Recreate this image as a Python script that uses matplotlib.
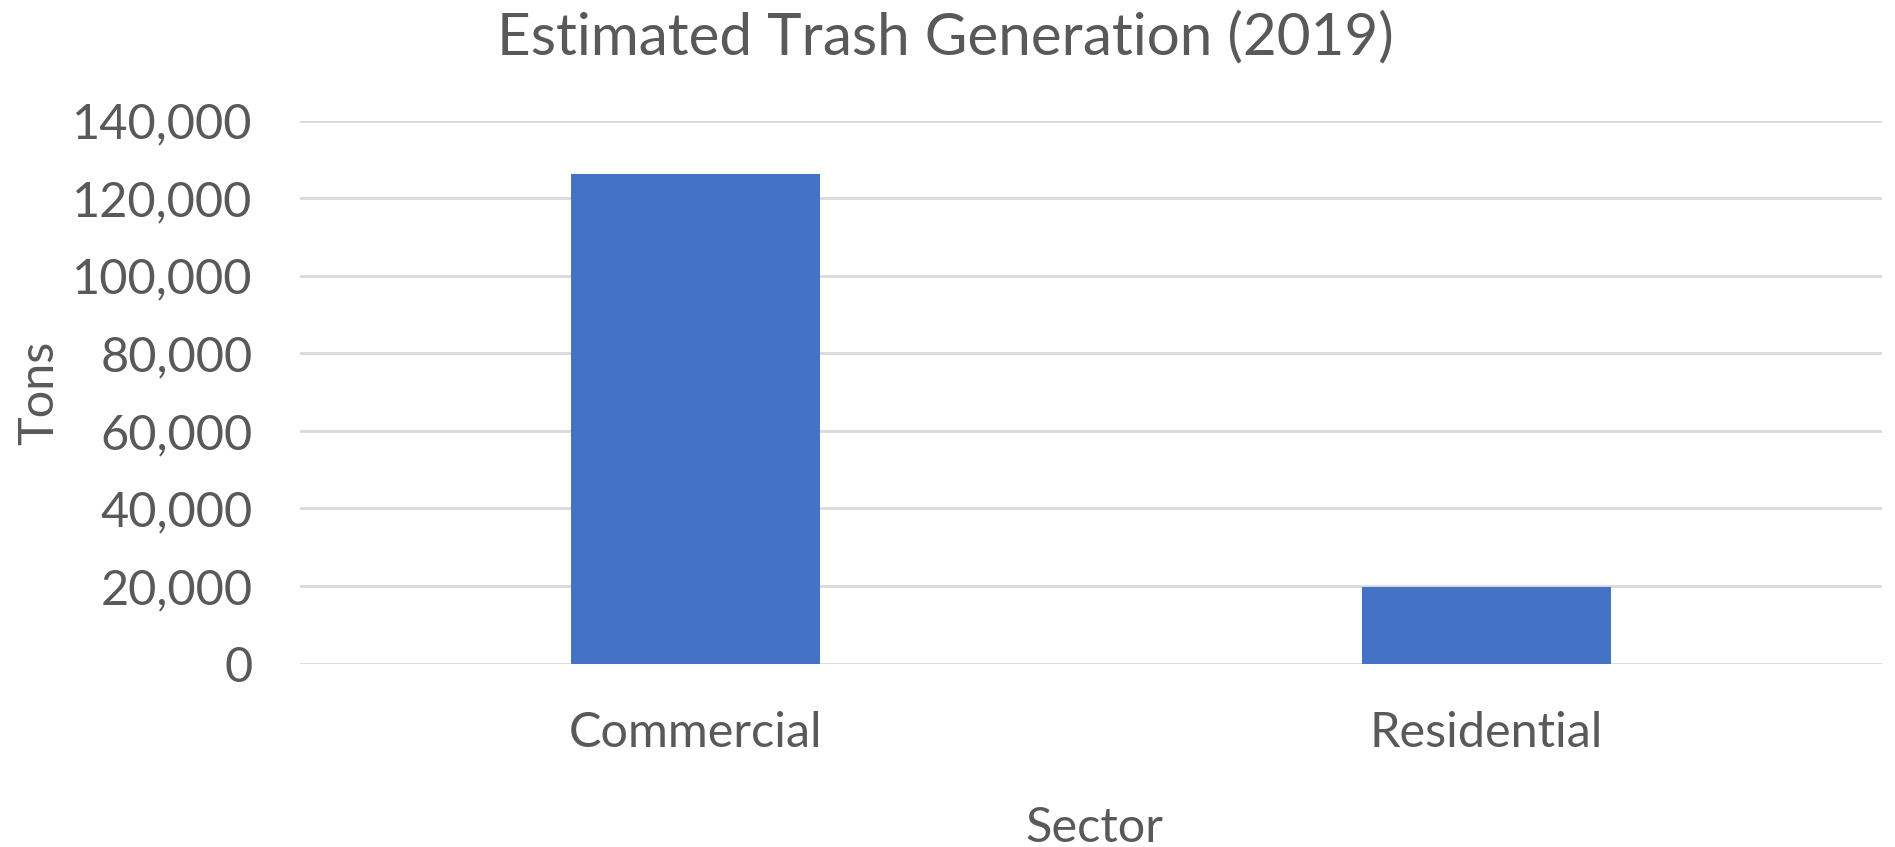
import matplotlib
matplotlib.use("Agg")
import matplotlib.pyplot as plt
from matplotlib.ticker import FuncFormatter, MultipleLocator

categories = ["Commercial", "Residential"]
tons = [126300, 19800]
title = "Estimated Trash Generation (2019)"
x_label = "Sector"
y_label = "Tons"

W, H = 1895, 847
fig = plt.figure(figsize=(W / 100, H / 100), dpi=100)
plt.rcParams['font.family'] = ['Lato', 'DejaVu Sans']
txt = "#595959"
grid = "#d9d9d9"
bar_c = "#4472C4"

ax = fig.add_axes([300 / W, 1 - 663.5 / H, (1882 - 300) / W, (663.5 - 120.8) / H])
ax.bar(range(len(categories)), tons, width=0.314, color=bar_c, zorder=3)
ax.set_xlim(-0.5, len(categories) - 0.5)
ax.set_ylim(0, 140000)
ax.yaxis.set_major_locator(MultipleLocator(20000))
ax.yaxis.set_major_formatter(FuncFormatter(lambda v, p: f"{int(v):,}"))
ax.set_xticks(range(len(categories)))
ax.set_xticklabels(categories)
ax.grid(axis='y', color=grid, linewidth=2, zorder=0)
for s in ax.spines.values():
    s.set_visible(False)
ax.tick_params(axis='both', length=0, colors=txt, labelsize=35)
ax.tick_params(axis='y', pad=34)
ax.tick_params(axis='x', pad=34)

fig.text(945 / W, 1 - 38 / H, title, ha='center', va='center', fontsize=42, color=txt)
fig.text(1094 / W, 1 - 828 / H, x_label, ha='center', va='center', fontsize=35, color=txt)
fig.text(39 / W, 1 - 393 / H, y_label, ha='center', va='center', rotation=90, fontsize=35, color=txt)

fig.savefig("out.png", dpi=100)
